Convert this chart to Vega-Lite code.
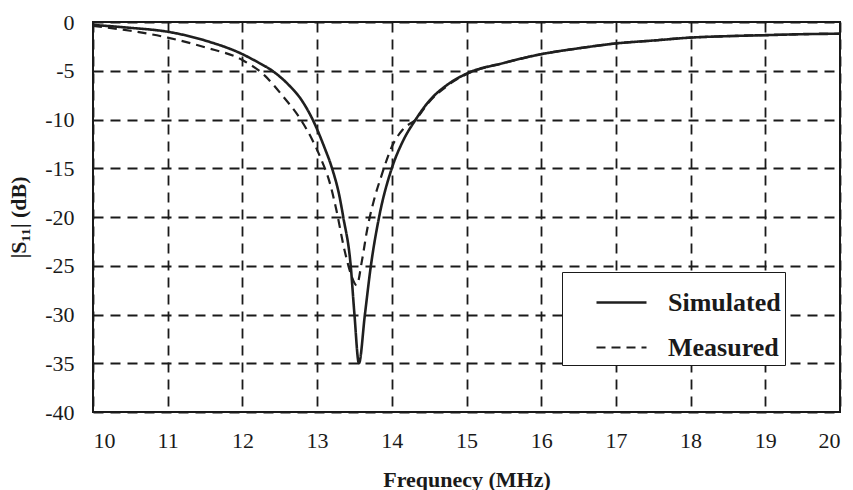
{
  "$schema": "https://vega.github.io/schema/vega-lite/v6.json",
  "width": 747,
  "height": 390,
  "autosize": "none",
  "padding": {"left": 93, "top": 22, "right": 13, "bottom": 78},
  "background": "white",
  "config": {
    "view": {"stroke": "#1a1a1a", "strokeWidth": 2},
    "font": "Liberation Serif"
  },
  "data": {
    "values": [
      {"f": 10.0, "s11": -0.3, "series": "Simulated"},
      {"f": 10.5, "s11": -0.6, "series": "Simulated"},
      {"f": 11.0, "s11": -1.0, "series": "Simulated"},
      {"f": 11.5, "s11": -1.9, "series": "Simulated"},
      {"f": 12.0, "s11": -3.3, "series": "Simulated"},
      {"f": 12.2, "s11": -4.1, "series": "Simulated"},
      {"f": 12.4, "s11": -5.0, "series": "Simulated"},
      {"f": 12.6, "s11": -6.3, "series": "Simulated"},
      {"f": 12.8, "s11": -8.1, "series": "Simulated"},
      {"f": 12.94, "s11": -10.0, "series": "Simulated"},
      {"f": 13.1, "s11": -12.9, "series": "Simulated"},
      {"f": 13.2, "s11": -15.0, "series": "Simulated"},
      {"f": 13.3, "s11": -17.9, "series": "Simulated"},
      {"f": 13.35, "s11": -20.0, "series": "Simulated"},
      {"f": 13.45, "s11": -25.0, "series": "Simulated"},
      {"f": 13.5, "s11": -30.0, "series": "Simulated"},
      {"f": 13.56, "s11": -35.0, "series": "Simulated"},
      {"f": 13.64, "s11": -30.0, "series": "Simulated"},
      {"f": 13.72, "s11": -25.0, "series": "Simulated"},
      {"f": 13.83, "s11": -20.0, "series": "Simulated"},
      {"f": 14.0, "s11": -15.0, "series": "Simulated"},
      {"f": 14.15, "s11": -12.2, "series": "Simulated"},
      {"f": 14.32, "s11": -10.0, "series": "Simulated"},
      {"f": 14.5, "s11": -8.1, "series": "Simulated"},
      {"f": 14.75, "s11": -6.4, "series": "Simulated"},
      {"f": 15.0, "s11": -5.3, "series": "Simulated"},
      {"f": 15.5, "s11": -4.2, "series": "Simulated"},
      {"f": 16.0, "s11": -3.3, "series": "Simulated"},
      {"f": 16.5, "s11": -2.7, "series": "Simulated"},
      {"f": 17.0, "s11": -2.2, "series": "Simulated"},
      {"f": 17.5, "s11": -1.9, "series": "Simulated"},
      {"f": 18.0, "s11": -1.6, "series": "Simulated"},
      {"f": 18.5, "s11": -1.45, "series": "Simulated"},
      {"f": 19.0, "s11": -1.35, "series": "Simulated"},
      {"f": 19.5, "s11": -1.25, "series": "Simulated"},
      {"f": 20.0, "s11": -1.2, "series": "Simulated"},
      {"f": 10.0, "s11": -0.4, "series": "Measured"},
      {"f": 10.5, "s11": -0.9, "series": "Measured"},
      {"f": 11.0, "s11": -1.6, "series": "Measured"},
      {"f": 11.5, "s11": -2.6, "series": "Measured"},
      {"f": 12.0, "s11": -3.9, "series": "Measured"},
      {"f": 12.3, "s11": -5.5, "series": "Measured"},
      {"f": 12.53, "s11": -7.5, "series": "Measured"},
      {"f": 12.78, "s11": -10.0, "series": "Measured"},
      {"f": 12.93, "s11": -12.0, "series": "Measured"},
      {"f": 13.05, "s11": -14.0, "series": "Measured"},
      {"f": 13.17, "s11": -16.5, "series": "Measured"},
      {"f": 13.25, "s11": -19.0, "series": "Measured"},
      {"f": 13.37, "s11": -23.5, "series": "Measured"},
      {"f": 13.45, "s11": -25.8, "series": "Measured"},
      {"f": 13.53, "s11": -27.0, "series": "Measured"},
      {"f": 13.6, "s11": -24.5, "series": "Measured"},
      {"f": 13.67, "s11": -21.3, "series": "Measured"},
      {"f": 13.76, "s11": -18.3, "series": "Measured"},
      {"f": 13.86, "s11": -15.8, "series": "Measured"},
      {"f": 14.0, "s11": -12.8, "series": "Measured"},
      {"f": 14.15, "s11": -11.0, "series": "Measured"},
      {"f": 14.32, "s11": -10.0, "series": "Measured"},
      {"f": 14.5, "s11": -8.2, "series": "Measured"},
      {"f": 14.75, "s11": -6.5, "series": "Measured"},
      {"f": 15.0, "s11": -5.35, "series": "Measured"},
      {"f": 15.5, "s11": -4.2, "series": "Measured"},
      {"f": 16.0, "s11": -3.3, "series": "Measured"},
      {"f": 16.5, "s11": -2.7, "series": "Measured"},
      {"f": 17.0, "s11": -2.2, "series": "Measured"},
      {"f": 17.5, "s11": -1.9, "series": "Measured"},
      {"f": 18.0, "s11": -1.6, "series": "Measured"},
      {"f": 18.5, "s11": -1.45, "series": "Measured"},
      {"f": 19.0, "s11": -1.35, "series": "Measured"},
      {"f": 19.5, "s11": -1.25, "series": "Measured"},
      {"f": 20.0, "s11": -1.2, "series": "Measured"}
    ]
  },
  "mark": {"type": "line", "interpolate": "monotone", "color": "#1f1f1f", "clip": true},
  "encoding": {
    "x": {
      "field": "f",
      "type": "quantitative",
      "scale": {"domain": [10, 20], "nice": false},
      "axis": {
        "title": "Frequnecy (MHz)",
        "values": [10, 11, 12, 13, 14, 15, 16, 17, 18, 19, 20],
        "labelExpr": "'' + datum.value",
        "domain": false,
        "ticks": false,
        "tickSize": 0,
        "labelPadding": 18,
        "labelFontSize": 22,
        "labelColor": "#1a1a1a",
        "labelFont": "Liberation Serif",
        "grid": true,
        "gridColor": "#1a1a1a",
        "gridDash": [10, 7],
        "gridWidth": 1.8,
        "gridOpacity": 1,
        "titleFont": "Liberation Serif",
        "titleFontSize": 22,
        "titleFontWeight": "bold",
        "titleColor": "#1a1a1a",
        "titlePadding": 18
      }
    },
    "y": {
      "field": "s11",
      "type": "quantitative",
      "scale": {"domain": [-40, 0], "nice": false},
      "axis": {
        "title": "|S₁₁| (dB)",
        "values": [-40, -35, -30, -25, -20, -15, -10, -5, 0],
        "labelExpr": "'' + datum.value",
        "domain": false,
        "ticks": false,
        "tickSize": 0,
        "labelPadding": 19,
        "labelFontSize": 22,
        "labelColor": "#1a1a1a",
        "labelFont": "Liberation Serif",
        "grid": true,
        "gridColor": "#1a1a1a",
        "gridDash": [10, 7],
        "gridWidth": 1.8,
        "gridOpacity": 1,
        "titleFont": "Liberation Serif",
        "titleFontSize": 22,
        "titleFontWeight": "bold",
        "titleColor": "#1a1a1a",
        "titlePadding": 14
      }
    },
    "strokeDash": {
      "field": "series",
      "type": "nominal",
      "scale": {"domain": ["Simulated", "Measured"], "range": [[1, 0], [9, 6]]},
      "legend": {
        "title": null,
        "orient": "none",
        "legendX": 469,
        "legendY": 250,
        "fillColor": "white",
        "strokeColor": "#1a1a1a",
        "padding": 4,
        "symbolOffset": 29,
        "symbolType": "stroke",
        "symbolSize": 2500,
        "symbolStrokeWidth": 2.5,
        "symbolStrokeColor": "#1f1f1f",
        "labelFont": "Liberation Serif",
        "labelFontSize": 26,
        "labelFontWeight": "bold",
        "labelColor": "#1a1a1a",
        "labelOffset": 20,
        "rowPadding": 5,
        "labelLimit": 400
      }
    },
    "strokeWidth": {
      "field": "series",
      "type": "nominal",
      "scale": {"domain": ["Simulated", "Measured"], "range": [2.6, 2.2]},
      "legend": null
    }
  }
}
